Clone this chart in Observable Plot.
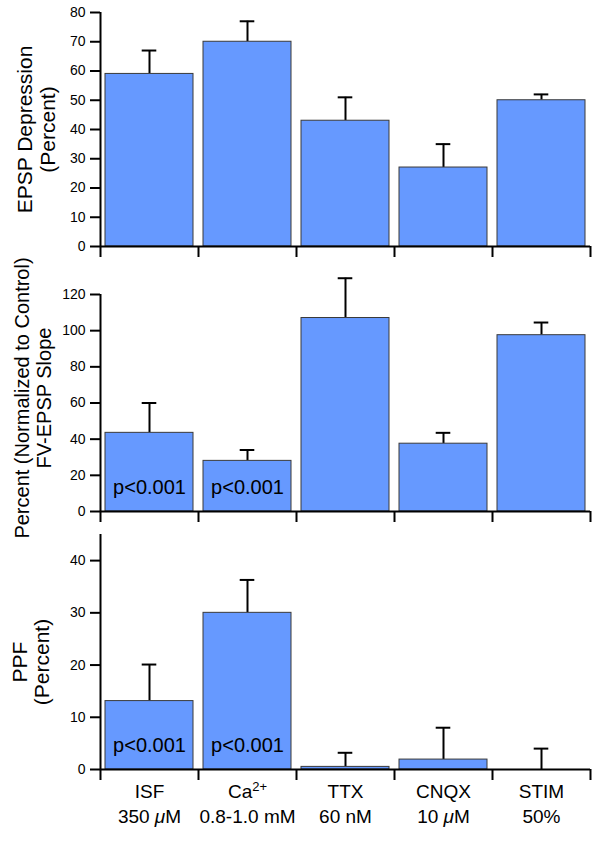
<!DOCTYPE html>
<html><head><meta charset="utf-8">
<script src="https://cdn.jsdelivr.net/npm/d3@7"></script>
<script src="https://cdn.jsdelivr.net/npm/@observablehq/plot@0.6"></script>
<style>body{margin:0;background:#fff} #chart svg{display:block}</style>
</head><body><div id="chart"></div>
<script>
const categories = ["ISF", "Ca", "TTX", "CNQX", "STIM"];
const tickLabels = ["ISF\n350 μM", "Ca²⁺\n0.8-1.0 mM", "TTX\n60 nM", "CNQX\n10 μM", "STIM\n50%"];

const depression = [59, 70, 43, 27, 50];
const depressionErr = [8, 7, 8, 8, 2];

const fvSlope = [43.5, 28, 107, 37.5, 97.5];
const fvSlopeErr = [16.5, 6, 22, 6, 7];

const ppf = [13.1, 30, 0.5, 1.9, 0];
const ppfErr = [7, 6.3, 2.7, 6.1, 4];

const pNotes = ["p<0.001", "p<0.001", "", "", ""];

const FONT = "'Liberation Sans', Arial, Helvetica, sans-serif";
const BAR_FILL = "#6699ff";

function panel(o) {
  const data = categories.map((c, i) => ({
    cat: c, value: o.values[i], top: o.values[i] + o.errors[i],
    note: o.notes ? o.notes[i] : "", label: tickLabels[i]
  }));
  const marks = [
    Plot.ruleX(data, {x: "cat", y1: "value", y2: "top", stroke: "#000", strokeWidth: 2}),
    Plot.tickY(data, {x: "cat", y: "top", insetLeft: 36.7, insetRight: 36.7, stroke: "#000", strokeWidth: 2}),
    Plot.barY(data, {x: "cat", y: "value", fill: BAR_FILL, stroke: "#3a3a3a", strokeWidth: 1}),
    Plot.ruleY([0], {stroke: "#000", strokeWidth: 2}),
    Plot.ruleX([categories[0]], {x: (d) => d, y1: 0, y2: o.yDomain[1], dx: -49, stroke: "#000", strokeWidth: 2}),
    Plot.axisY({ticks: o.yTicks, tickSize: 10, tickPadding: 5, strokeWidth: 2, label: null, fontSize: 14}),
    Plot.axisX({ticks: categories, tickSize: 11, tickFormat: () => "", dx: -49, strokeWidth: 2, label: null}),
    Plot.axisX({ticks: [categories[categories.length - 1]], tickSize: 11, tickFormat: () => "", dx: 49, strokeWidth: 2, label: null}),
    Plot.text([o.title], {text: (d) => d, frameAnchor: "left", rotate: -90, textAnchor: "middle", lineAnchor: "middle",
      fontSize: o.titleSize, lineHeight: 1.07, dx: o.titleDx, dy: o.titleDy, fill: "#000"})
  ];
  if (o.notes) {
    marks.push(Plot.text(data, {x: "cat", y: 0, text: "note", lineAnchor: "bottom", dy: -18, fontSize: 20, fill: "#000"}));
  }
  if (o.showLabels) {
    marks.push(Plot.text(data, {x: "cat", y: 0, text: "label", lineAnchor: "top", dy: 11, fontSize: 19, lineHeight: 1.3, fill: "#000"}));
  }
  return Plot.plot({
    width: 600,
    height: o.height,
    marginLeft: 100,
    marginRight: 10,
    marginTop: o.marginTop,
    marginBottom: o.marginBottom,
    style: {fontFamily: FONT, fontSize: "14px", background: "#fff", color: "#000", overflow: "visible"},
    x: {type: "band", domain: categories, paddingInner: 0.1, paddingOuter: 0.05},
    y: {domain: o.yDomain},
    marks
  });
}

const chart = document.getElementById("chart");
chart.append(panel({
  values: depression, errors: depressionErr, yDomain: [0, 80], yTicks: d3.range(0, 81, 10),
  height: 270, marginTop: 12, marginBottom: 24,
  title: "EPSP Depression\n(Percent)", titleSize: 21, titleDx: -64, titleDy: 0
}));
chart.append(panel({
  values: fvSlope, errors: fvSlopeErr, notes: pNotes, yDomain: [0, 120], yTicks: d3.range(0, 121, 20),
  height: 260, marginTop: 24, marginBottom: 19,
  title: "Percent (Normalized to Control)\nFV-EPSP Slope", titleSize: 20, titleDx: -67.5, titleDy: -5
}));
chart.append(panel({
  values: ppf, errors: ppfErr, notes: pNotes, yDomain: [0, 45], yTicks: d3.range(0, 41, 10),
  height: 314, marginTop: 4, marginBottom: 75, showLabels: true,
  title: "PPF\n(Percent)", titleSize: 21, titleDx: -69.5, titleDy: 10
}));

// Typographic touch-ups: real superscript for Ca²⁺ and italic μ
const NS = "http://www.w3.org/2000/svg";
d3.selectAll("#chart tspan").each(function () {
  const t = this.textContent;
  if (t.includes("²⁺")) {
    this.textContent = t.replace("²⁺", "");
    const sup = document.createElementNS(NS, "tspan");
    sup.setAttribute("baseline-shift", "super");
    sup.setAttribute("font-size", "13");
    sup.textContent = "2+";
    this.appendChild(sup);
  } else if (t.includes("μ")) {
    const [a, b] = t.split("μ");
    this.textContent = a;
    const mu = document.createElementNS(NS, "tspan");
    mu.setAttribute("font-style", "italic");
    mu.textContent = "μ";
    this.appendChild(mu);
    this.appendChild(document.createTextNode(b));
  }
});
</script>
</body></html>
